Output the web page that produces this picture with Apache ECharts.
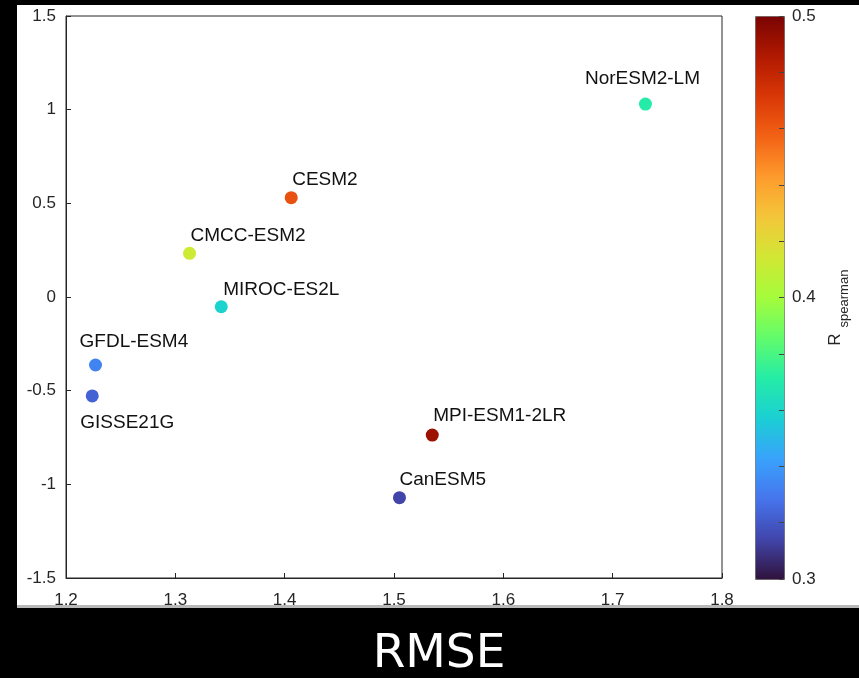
<!DOCTYPE html>
<html>
<head>
<meta charset="utf-8">
<script src="https://cdn.jsdelivr.net/npm/echarts@6/dist/echarts.min.js"></script>
<style>
html,body{margin:0;padding:0;background:#000;}
#chart{width:859px;height:678px;}
</style>
</head>
<body>
<div id="chart"></div>
<script>
// ---- data ----
const models = ["NorESM2-LM","CESM2","CMCC-ESM2","MIROC-ES2L","GFDL-ESM4","GISSE21G","MPI-ESM1-2LR","CanESM5"];
const rmse   = [1.730, 1.406, 1.313, 1.342, 1.227, 1.224, 1.535, 1.505];
const bias   = [1.030, 0.530, 0.233, -0.052, -0.363, -0.528, -0.737, -1.071];
const rSpearman = [0.371, 0.463, 0.413, 0.359, 0.333, 0.323, 0.491, 0.314];
const xTicks = [1.2, 1.3, 1.4, 1.5, 1.6, 1.7, 1.8];
const yTicks = [-1.5, -1, -0.5, 0, 0.5, 1, 1.5];
const cbTicks = [0.3, 0.4, 0.5];
const xTitle = "RMSE";

// ---- styling / layout ----
const turbo = ["#30123b","#4145ab","#4675ed","#39a2fc","#1bcfd4","#24eca6","#61fc6c","#a4fc3b","#d1e834","#f3c63a","#fe9b2d","#f36315","#d93806","#b11901","#7a0402"];
const labelShift = {
  "NorESM2-LM": [-3, -25, 'center'],
  "CESM2": [1, -18, 'left'],
  "CMCC-ESM2": [1, -18, 'left'],
  "MIROC-ES2L": [2, -17, 'left'],
  "GFDL-ESM4": [-16, -23, 'left'],
  "GISSE21G": [-12, 27, 'left'],
  "MPI-ESM1-2LR": [1, -19, 'left'],
  "CanESM5": [0, -18, 'left']
};
const FONT = '"Liberation Sans", Arial, Helvetica, sans-serif';
const AX = '#262626';
const SYM = 13;

const chart = echarts.init(document.getElementById('chart'), null, {renderer: 'canvas'});

const points = models.map((m, i) => {
  const s = labelShift[m];
  return {
    name: m,
    value: [rmse[i], bias[i], rSpearman[i]],
    label: {
      show: true,
      formatter: m,
      position: [SYM / 2 + s[0], SYM / 2 + s[1]],
      align: s[2],
      verticalAlign: 'middle'
    }
  };
});

const option = {
  backgroundColor: '#000',
  animation: false,
  graphic: [
    { type: 'rect', z: -10, shape: {x: 17, y: 5, width: 842, height: 602}, style: {fill: '#fff'} },
    { type: 'rect', z: -10, shape: {x: 17, y: 605, width: 842, height: 3}, style: {fill: '#b8b8b8'} },
    { type: 'text', x: 439, y: 655, style: {text: xTitle, fill: '#fff', font: '47px "DejaVu Sans", sans-serif', textAlign: 'center', textVerticalAlign: 'middle'} },
    { type: 'text', x: 835, y: 339.5, rotation: Math.PI / 2, style: {text: 'R', fill: '#262626', font: '17px ' + FONT, textAlign: 'center', textVerticalAlign: 'middle'} },
    { type: 'text', x: 844.5, y: 298.5, rotation: Math.PI / 2, style: {text: 'spearman', fill: '#262626', font: '13px ' + FONT, textAlign: 'center', textVerticalAlign: 'middle'} }
  ],
  grid: [
    { left: 66, top: 16, width: 656, height: 562, show: true, borderColor: AX, borderWidth: 1, backgroundColor: 'transparent' },
    { left: 755, top: 16, width: 29, height: 563, show: false }
  ],
  xAxis: [
    {
      type: 'value', gridIndex: 0,
      min: xTicks[0], max: xTicks[xTicks.length - 1], interval: +(xTicks[1] - xTicks[0]).toFixed(4),
      axisLine: {show: true, onZero: false, lineStyle: {color: AX, width: 1}},
      axisTick: {show: true, inside: true, length: 5, lineStyle: {color: AX}},
      axisLabel: {color: AX, fontSize: 17, fontFamily: FONT, margin: 14, formatter: v => String(+v.toFixed(2))},
      splitLine: {show: false}
    },
    { type: 'value', gridIndex: 1, show: false, min: 0, max: 1, axisLine: {onZero: false} }
  ],
  yAxis: [
    {
      type: 'value', gridIndex: 0,
      min: yTicks[0], max: yTicks[yTicks.length - 1], interval: yTicks[1] - yTicks[0],
      axisLine: {show: true, onZero: false, lineStyle: {color: AX, width: 1}},
      axisTick: {show: true, inside: true, length: 5, lineStyle: {color: AX}},
      axisLabel: {color: AX, fontSize: 17, fontFamily: FONT, margin: 10, padding: [3, 0, 0, 0], formatter: v => String(+v.toFixed(2))},
      splitLine: {show: false}
    },
    {
      type: 'value', gridIndex: 1, position: 'right', z: 20,
      min: cbTicks[0], max: cbTicks[cbTicks.length - 1], interval: +(cbTicks[1] - cbTicks[0]).toFixed(4),
      axisLine: {show: false, onZero: false},
      axisTick: {show: true, inside: true, length: 5, lineStyle: {color: '#444'}},
      minorTick: {show: true, splitNumber: 5, length: 5, lineStyle: {color: '#444'}},
      axisLabel: {color: AX, fontSize: 17, fontFamily: FONT, margin: 8, padding: [2, 0, 0, 0], formatter: v => v.toFixed(1)},
      splitLine: {show: false}
    }
  ],
  visualMap: {
    type: 'continuous',
    seriesIndex: 0,
    dimension: 2,
    min: cbTicks[0], max: cbTicks[cbTicks.length - 1],
    calculable: false,
    realtime: false,
    hoverLink: false,
    left: 755, top: 16,
    itemWidth: 29, itemHeight: 563,
    padding: 0,
    borderColor: '#666', borderWidth: 1,
    text: null,
    z: 2,
    inRange: {color: turbo}
  },
  series: [{
    type: 'scatter',
    xAxisIndex: 0, yAxisIndex: 0,
    symbol: 'circle',
    symbolSize: SYM,
    data: points,
    label: {color: '#111', fontSize: 19, fontFamily: FONT},
    itemStyle: {opacity: 1},
    z: 5
  }]
};
chart.setOption(option);
</script>
</body>
</html>
